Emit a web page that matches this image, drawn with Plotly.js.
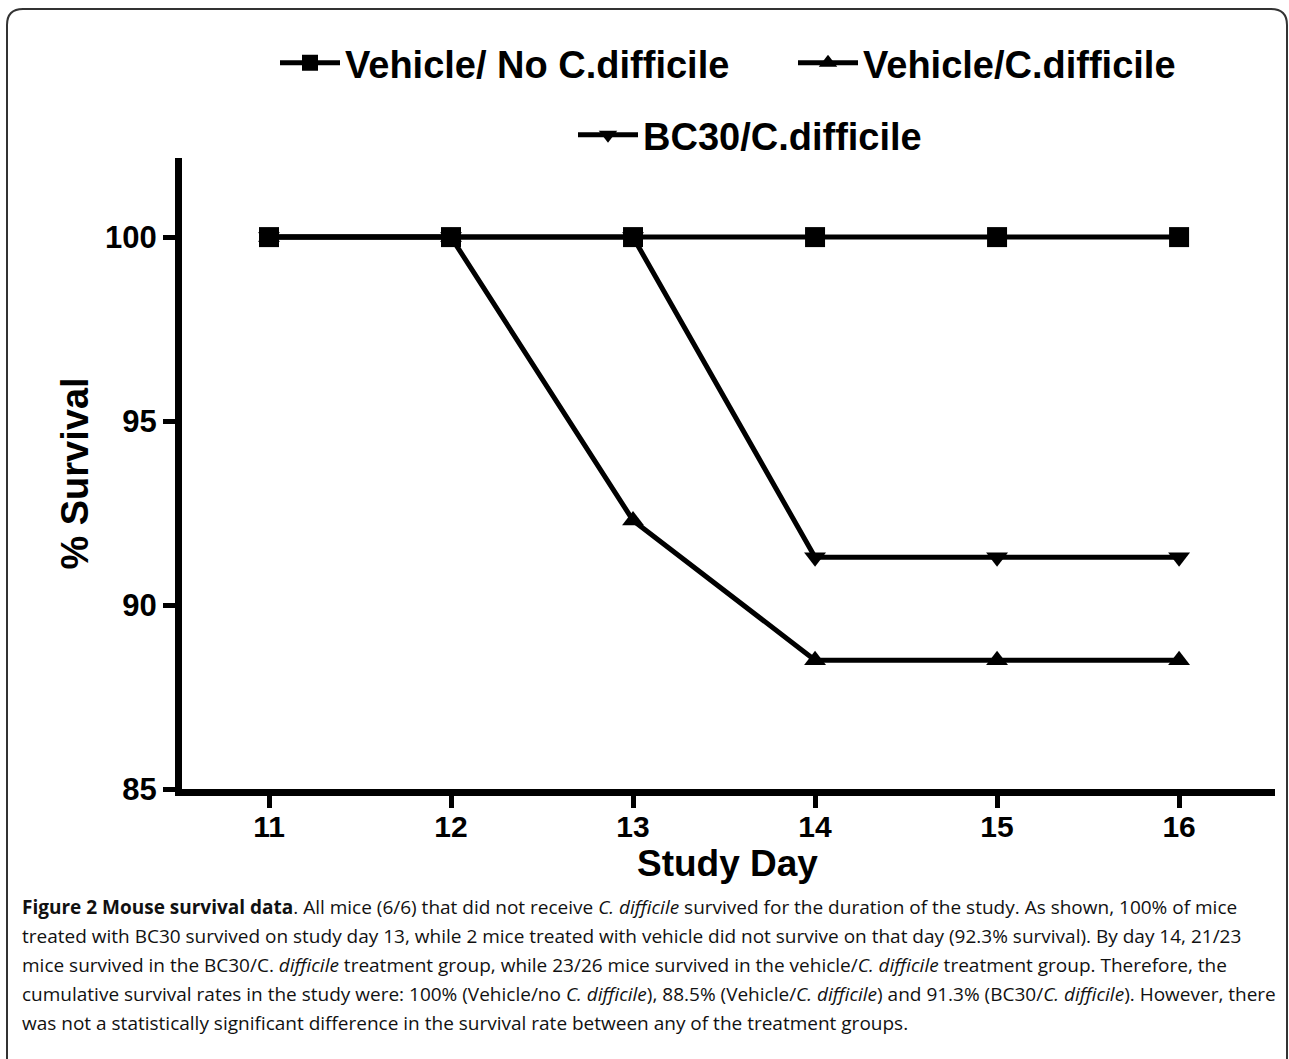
<!DOCTYPE html>
<html>
<head>
<meta charset="utf-8">
<script src="https://cdn.plot.ly/plotly-3.0.1.min.js"></script>
<style>
  html, body { margin: 0; padding: 0; background: #fff; overflow: hidden; }
  #chart { width: 1289px; height: 1059px; }
</style>
</head>
<body>
<div id="chart"></div>
<script>
// ---- data ----
const studyDays = [11, 12, 13, 14, 15, 16];
const vehicleNoCdiff = [100, 100, 100, 100, 100, 100];
const vehicleCdiff = [100, 100, 92.3, 88.5, 88.5, 88.5];
const bc30Cdiff = [100, 100, 100, 91.3, 91.3, 91.3];
const seriesNames = ["Vehicle/ No C.difficile", "Vehicle/C.difficile", "BC30/C.difficile"];
const xTickVals = [11, 12, 13, 14, 15, 16];
const yTickVals = [85, 90, 95, 100];
const xTitle = "Study Day";
const yTitle = "% Survival";
const captionLines = [
  "<b>Figure 2 Mouse survival data</b>. All mice (6/6) that did not receive <i>C. difficile</i> survived for the duration of the study. As shown, 100% of mice",
  "treated with BC30 survived on study day 13, while 2 mice treated with vehicle did not survive on that day (92.3% survival). By day 14, 21/23",
  "mice survived in the BC30/C. <i>difficile</i> treatment group, while 23/26 mice survived in the vehicle/<i>C. difficile</i> treatment group. Therefore, the",
  "cumulative survival rates in the study were: 100% (Vehicle/no <i>C. difficile</i>), 88.5% (Vehicle/<i>C. difficile</i>) and 91.3% (BC30/<i>C. difficile</i>). However, there",
  "was not a statistically significant difference in the survival rate between any of the treatment groups."
];

// ---- layout geometry ----
const W = 1289, H = 1059;
const M = { l: 182, r: 14, t: 158, b: 270 };
const PW = W - M.l - M.r, PH = H - M.t - M.b;
const px2x = p => (p - M.l) / PW;
const py2y = p => (H - M.b - p) / PH;

const boldFont = "Liberation Sans, Arial, sans-serif";
const lineW = 5;

function trace(y, name, symbol, size, legend) {
  return {
    x: studyDays, y: y, name: name, type: "scatter", mode: "lines+markers",
    line: { color: "#000", width: lineW },
    marker: { symbol: symbol, size: size, color: "#000" },
    legend: legend, cliponaxis: false
  };
}

const data = [
  trace(vehicleCdiff, seriesNames[1], "triangle-up", 19, "legend3"),
  trace(bc30Cdiff, seriesNames[2], "triangle-down", 19, "legend2"),
  trace(vehicleNoCdiff, seriesNames[0], "square", 20, "legend")
];

// rounded frame
const fL = 7, fT = 9, fR = 1287, fB = 1100, rad = 16;
const framePath =
  "M" + px2x(fL) + "," + py2y(fB) +
  " L" + px2x(fL) + "," + py2y(fT + rad) +
  " Q" + px2x(fL) + "," + py2y(fT) + " " + px2x(fL + rad) + "," + py2y(fT) +
  " L" + px2x(fR - rad) + "," + py2y(fT) +
  " Q" + px2x(fR) + "," + py2y(fT) + " " + px2x(fR) + "," + py2y(fT + rad) +
  " L" + px2x(fR) + "," + py2y(fB);

const captionY = [907, 936, 965, 994, 1023];
const annotations = captionLines.map((t, i) => ({
  text: t, xref: "paper", yref: "paper",
  x: px2x(20), y: py2y(captionY[i]), xanchor: "left", yanchor: "middle",
  showarrow: false, align: "left",
  font: { family: "Open Sans, Noto Sans, sans-serif", size: 19, color: "#111" }
}));
annotations.push({
  text: xTitle, xref: "paper", yref: "paper",
  x: px2x(727), y: py2y(863), xanchor: "center", yanchor: "middle",
  showarrow: false,
  font: { family: boldFont, size: 37, weight: "bold", color: "#000" }
});

const legendFont = { family: boldFont, size: 38, weight: "bold", color: "#000" };
function legendAt(px, py) {
  return {
    orientation: "h", x: px2x(px), xanchor: "left", y: py2y(py), yanchor: "middle",
    font: legendFont, bgcolor: "rgba(0,0,0,0)", borderwidth: 0, itemwidth: 60
  };
}

const layout = {
  width: W, height: H,
  margin: M,
  paper_bgcolor: "#fff", plot_bgcolor: "#fff",
  showlegend: true,
  legend: legendAt(275, 63),
  legend3: legendAt(793, 63),
  legend2: legendAt(573, 135),
  xaxis: {
    range: [10.522, 16.527], tickvals: xTickVals, ticktext: xTickVals.map(String),
    showgrid: false, zeroline: false, showline: true, linecolor: "#000", linewidth: 7,
    ticks: "outside", ticklen: 12, tickwidth: 5, tickcolor: "#000",
    ticklabelstandoff: -7,
    tickfont: { family: boldFont, size: 30, weight: "bold", color: "#000" },
    fixedrange: true
  },
  yaxis: {
    range: [85, 102.15], tickvals: yTickVals, ticktext: yTickVals.map(String),
    showgrid: false, zeroline: false, showline: true, linecolor: "#000", linewidth: 7,
    ticks: "outside", ticklen: 12, tickwidth: 5, tickcolor: "#000",
    tickfont: { family: boldFont, size: 31, weight: "bold", color: "#000" },
    title: { text: yTitle, font: { family: boldFont, size: 38, weight: "bold", color: "#000" }, standoff: 7 },
    fixedrange: true
  },
  shapes: [{
    type: "path", xref: "paper", yref: "paper", path: framePath,
    line: { color: "#333", width: 2 }, layer: "above"
  }],
  annotations: annotations
};

Plotly.newPlot("chart", data, layout, { displayModeBar: false, staticPlot: true });
</script>
</body>
</html>
